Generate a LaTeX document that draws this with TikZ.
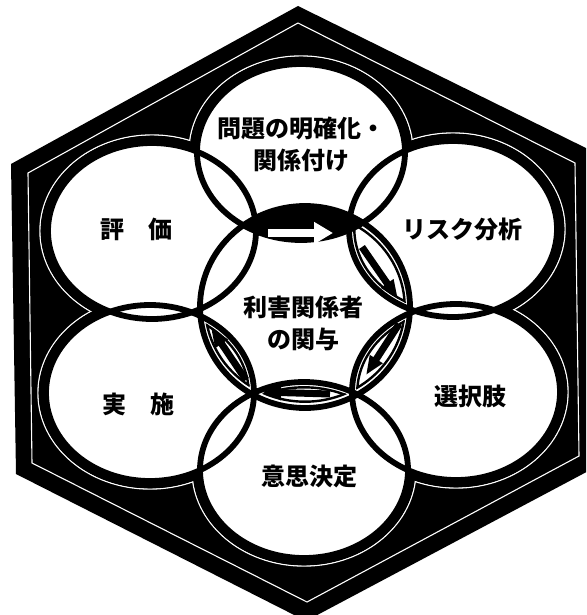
\documentclass[tikz,border=0pt]{standalone}
\usepackage{fontspec}
\newfontfamily\jpfont{Noto Sans CJK JP}
\usetikzlibrary{arrows.meta}
\tikzset{
  ring/.style={draw=black, line width=5.8pt},
  halo/.style={draw=white, line width=1.4pt},
  inlens/.style={draw=black, line width=2.4pt},
  blackarrow/.style={draw=black, line width=7pt, -{Triangle[width=14pt,length=19pt]}},
  whitearrow/.style={draw=white, line width=7.5pt, -{Triangle[width=21pt,length=19pt]}},
  lbl/.style={font=\jpfont\bfseries\fontsize{24pt}{32pt}\selectfont, align=center, inner sep=0pt, text=black},
}
\newcommand\innerlens[1]{%
  \begin{scope}\clip (C) ellipse (100 and 95); \draw[inlens] (#1) ellipse (98.7 and 82.7);\end{scope}%
  \begin{scope}\clip (#1) ellipse (100 and 84); \draw[inlens] (C) ellipse (99.7 and 94.7);\end{scope}}
\begin{document}
\begin{tikzpicture}[x=1pt,y=-1pt]
\useasboundingbox (0,0) rectangle (586,615);
\clip (0,0) rectangle (586,615);
% hexagon
\coordinate (H1) at (298,6);
\coordinate (H2) at (594,152);
\coordinate (H3) at (594,468);
\coordinate (H4) at (306,621);
\coordinate (H5) at (16,474);
\coordinate (H6) at (11,164);
\coordinate (I1) at (298,23);
\coordinate (I2) at (575,163);
\coordinate (I3) at (579,456);
\coordinate (I4) at (307,602);
\coordinate (I5) at (32,463);
\coordinate (I6) at (28,173);
\fill[black] (H1)--(H2)--(H3)--(H4)--(H5)--(H6)--cycle;
\draw[white, line width=1.1pt] (I1)--(I2)--(I3)--(I4)--(I5)--(I6)--cycle;
% circles
\coordinate (C) at (305,307);
\coordinate (O1) at (301,152);
\coordinate (O2) at (453,229);
\coordinate (O3) at (456,392);
\coordinate (O4) at (304,470);
\coordinate (O5) at (150,393);
\coordinate (O6) at (152,231);
\foreach \o in {O1,O2,O3,O4,O5,O6} \draw[halo] (\o) ellipse (112 and 96);
\foreach \o in {O1,O2,O3,O4,O5,O6} \fill[black] (\o) ellipse (111.4 and 95.4);
\foreach \o in {O1,O2,O3,O4,O5,O6} \fill[white] (\o) ellipse (104 and 88);
\fill[white] (C) ellipse (105 and 101);
\begin{scope}
  \clip (C) ellipse (105 and 101);
  \fill[black] (O1) ellipse (104 and 88);
\end{scope}
\innerlens{O2}
\innerlens{O3}
\innerlens{O4}
\innerlens{O5}
\foreach \o in {O1,O2,O3,O4,O5,O6} \draw[ring] (\o) ellipse (104 and 88);
\draw[ring] (C) ellipse (105 and 101);
% arrows
\coordinate (a1s) at (268,233); \coordinate (a1e) at (333,233);
\coordinate (a2s) at (362,247); \coordinate (a2e) at (398,299);
\coordinate (a3s) at (399,324); \coordinate (a3e) at (366,375);
\coordinate (a4s) at (330,394); \coordinate (a4e) at (262,392);
\coordinate (a5s) at (246,380); \coordinate (a5e) at (211,328);
\draw[whitearrow] (a1s) -- (a1e);
\draw[blackarrow] (a2s) -- (a2e);
\draw[blackarrow] (a3s) -- (a3e);
\draw[blackarrow] (a4s) -- (a4e);
\draw[blackarrow] (a5s) -- (a5e);
% labels
\node[lbl] (t1) at (301,144.5) {問題の明確化・\\関係付け};
\node[lbl] (t2) at (462,229) {リスク分析};
\node[lbl] (t3) at (470,396) {選択肢};
\node[lbl] (t4) at (309,476) {意思決定};
\node[lbl] (t5) at (138,404) {実　施};
\node[lbl] (t6) at (136,229) {評　価};
\node[lbl] (t0) at (303,323) {利害関係者\\の関与};
\end{tikzpicture}
\end{document}
